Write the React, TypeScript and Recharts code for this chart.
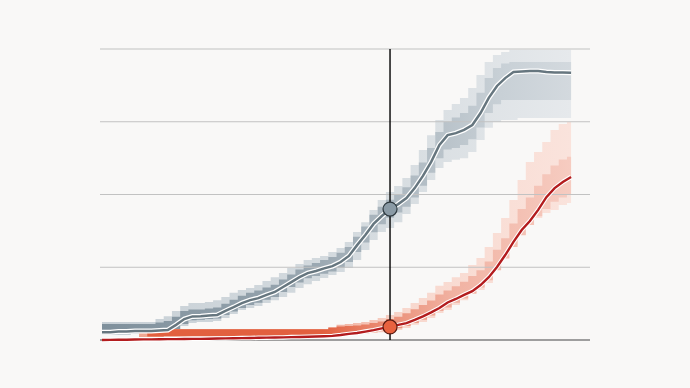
import { ComposedChart, Area, Line, XAxis, YAxis, ReferenceLine, ReferenceDot } from 'recharts';

// one column every ~8px, the marker sits on column 35
const grayLine = [2.7, 2.7, 2.9, 2.9, 3.1, 3.1, 3.1, 3.3, 3.4, 5.2, 7.2, 8.1, 8.2, 8.4, 8.6, 10.0, 11.3, 12.7, 13.7, 14.4, 15.5, 16.5, 18.2, 19.9, 21.6, 23.0, 23.7, 24.6, 25.4, 26.8, 28.9, 32.6, 36.1, 39.9, 42.6, 45.0, 46.7, 48.8, 52.2, 56.4, 61.2, 67.0, 70.4, 71.1, 72.2, 73.9, 78.0, 83.2, 87.3, 90.0, 92.1, 92.3, 92.4, 92.4, 92.1, 91.9, 91.9, 91.8];
const grayOuterLo = [1.7, 1.7, 1.7, 1.7, 2.1, 2.1, 2.1, 2.1, 2.4, 3.4, 4.8, 5.8, 6.2, 6.2, 6.5, 7.6, 8.9, 10.3, 11.0, 11.7, 12.7, 13.7, 14.8, 16.2, 17.9, 19.2, 20.3, 21.3, 22.3, 23.4, 24.7, 27.5, 30.9, 34.4, 37.1, 38.5, 40.5, 43.3, 46.7, 50.9, 55.0, 59.1, 61.2, 61.9, 62.5, 64.6, 68.7, 72.9, 74.9, 75.6, 75.6, 76.3, 76.3, 76.3, 76.3, 76.3, 76.3, 76.3];
const grayOuterHi = [6.2, 6.2, 6.2, 6.2, 6.2, 6.2, 6.2, 7.2, 8.2, 10.0, 11.7, 12.7, 12.7, 13.1, 13.7, 14.8, 16.2, 17.2, 17.9, 18.9, 20.3, 21.6, 23.0, 24.7, 26.1, 27.5, 28.2, 28.9, 30.2, 31.6, 33.7, 37.1, 40.5, 44.7, 48.1, 50.9, 52.9, 55.7, 60.1, 65.3, 70.4, 75.6, 79.0, 81.1, 83.2, 86.6, 91.1, 95.5, 97.9, 99.0, 99.7, 99.7, 99.7, 99.7, 99.7, 99.7, 99.7, 99.7];
const grayInnerLo = [2.2, 2.2, 2.2, 2.2, 2.4, 2.4, 2.4, 2.6, 2.8, 3.8, 5.5, 6.8, 7.0, 7.2, 7.4, 8.6, 9.8, 11.0, 12.0, 12.8, 13.8, 14.8, 16.5, 18.2, 19.8, 21.2, 22.0, 22.8, 23.5, 24.8, 26.8, 30.2, 33.5, 37.0, 39.8, 42.0, 43.8, 45.8, 49.0, 53.0, 57.5, 62.5, 65.5, 66.0, 67.0, 69.0, 73.0, 78.0, 81.0, 82.5, 82.5, 82.5, 82.5, 82.5, 82.5, 82.5, 82.5, 82.5];
const grayInnerHi = [5.5, 5.5, 5.5, 5.5, 5.5, 5.5, 5.5, 6.0, 6.5, 8.0, 10.0, 10.5, 10.5, 10.8, 11.2, 12.5, 13.8, 15.2, 16.2, 17.0, 18.0, 19.0, 20.8, 22.5, 24.2, 25.6, 26.5, 27.5, 28.5, 30.0, 32.0, 35.5, 39.0, 43.0, 45.8, 48.2, 50.0, 52.5, 56.5, 61.0, 66.0, 71.5, 75.0, 76.5, 78.0, 80.5, 85.0, 90.0, 93.5, 95.0, 95.5, 95.5, 95.5, 95.5, 95.5, 95.5, 95.5, 95.5];

const redLine = [0.0, 0.05, 0.1, 0.1, 0.15, 0.2, 0.2, 0.25, 0.3, 0.3, 0.35, 0.4, 0.4, 0.45, 0.5, 0.55, 0.6, 0.65, 0.7, 0.75, 0.8, 0.85, 0.9, 1.0, 1.05, 1.1, 1.2, 1.3, 1.4, 1.7, 2.1, 2.4, 2.9, 3.4, 4.0, 4.5, 5.2, 5.8, 6.9, 8.1, 9.5, 11.0, 12.9, 14.1, 15.5, 16.8, 18.9, 21.6, 25.1, 29.2, 33.7, 37.8, 40.9, 44.7, 49.1, 52.2, 54.3, 56.0];
const redOuterLo = [0, 0, 0.1, 0.1, 0.1, 1.0, 1.0, 1.0, 1.2, 1.2, 1.2, 1.2, 1.2, 1.2, 1.2, 1.2, 1.2, 1.2, 1.2, 1.2, 1.2, 1.2, 1.2, 1.2, 1.2, 1.2, 1.2, 1.2, 1.4, 1.7, 1.7, 2.1, 2.2, 2.4, 2.7, 3.1, 3.4, 4.1, 5.2, 6.2, 7.6, 9.3, 10.3, 12.0, 13.7, 15.8, 17.2, 19.6, 24.7, 28.2, 32.6, 36.1, 39.5, 41.9, 43.6, 44.7, 46.4, 47.1];
const redOuterHi = [0.2, 0.2, 0.3, 0.3, 0.3, 2.4, 3.4, 3.8, 3.8, 3.8, 3.8, 3.8, 3.8, 3.8, 3.8, 3.8, 3.8, 3.8, 3.8, 3.8, 3.8, 3.8, 3.8, 3.8, 3.8, 3.8, 3.8, 3.8, 4.5, 5.2, 5.5, 5.8, 6.2, 6.9, 7.6, 8.6, 9.6, 11.0, 12.7, 14.4, 16.2, 18.6, 19.9, 21.6, 23.0, 25.8, 28.2, 32.0, 36.8, 41.9, 48.1, 55.0, 61.2, 64.6, 68.0, 72.2, 74.2, 74.9];
const redInnerLo = [0, 0, 0.1, 0.1, 0.1, 1.0, 1.2, 1.2, 1.3, 1.3, 1.3, 1.3, 1.3, 1.3, 1.3, 1.3, 1.3, 1.3, 1.3, 1.3, 1.3, 1.3, 1.3, 1.3, 1.3, 1.3, 1.3, 1.3, 1.5, 1.8, 2.0, 2.3, 2.5, 2.8, 3.2, 3.6, 4.0, 4.8, 5.8, 7.0, 8.4, 10.0, 11.2, 12.8, 14.3, 16.0, 18.0, 20.5, 24.0, 28.0, 32.0, 36.0, 39.5, 42.5, 45.0, 47.5, 49.0, 50.0];
const redInnerHi = [0, 0, 0.1, 0.1, 0.1, 1.0, 2.5, 3.6, 3.7, 3.7, 3.7, 3.7, 3.7, 3.7, 3.7, 3.7, 3.7, 3.7, 3.7, 3.7, 3.7, 3.7, 3.7, 3.7, 3.7, 3.7, 3.7, 3.7, 4.2, 4.6, 4.8, 5.0, 5.3, 5.8, 6.4, 7.2, 8.0, 9.2, 10.6, 12.0, 13.6, 15.6, 17.0, 18.5, 20.0, 22.0, 24.0, 27.0, 31.0, 35.0, 40.0, 45.0, 49.0, 53.0, 57.0, 60.0, 62.0, 63.0];

const gridTicks = [25, 50, 75, 100];
const markerIndex = 35;

const data = grayLine.map((g, i) => ({
  i,
  gray: g,
  grayOuter: [grayOuterLo[i], grayOuterHi[i]],
  grayInner: [grayInnerLo[i], grayInnerHi[i]],
  red: redLine[i],
  redOuter: [redOuterLo[i], redOuterHi[i]],
  redInner: [redInnerLo[i], redInnerHi[i]],
}));

export default function App() {
  return (
    <div style={{ position: 'absolute', top: 0, left: 0, width: 690, height: 388, background: '#f9f8f7' }}>
      <ComposedChart width={690} height={388} data={data} margin={{ top: 49, right: 100, bottom: 48, left: 100 }}>
        <defs>
          <linearGradient id="grayOuterFill" x1="0" y1="0" x2="1" y2="0">
            <stop offset="0" stopColor="#c8d0d6" />
            <stop offset="0.6" stopColor="#d6dce0" />
            <stop offset="1" stopColor="#e6e9ec" />
          </linearGradient>
          <linearGradient id="grayInnerFill" x1="0" y1="0" x2="1" y2="0">
            <stop offset="0" stopColor="#7f909c" />
            <stop offset="0.4" stopColor="#95a3ad" />
            <stop offset="0.65" stopColor="#afbac2" />
            <stop offset="0.85" stopColor="#c8d0d6" />
            <stop offset="1" stopColor="#d3d9de" />
          </linearGradient>
          <linearGradient id="redOuterFill" x1="0" y1="0" x2="1" y2="0">
            <stop offset="0" stopColor="#efa58f" />
            <stop offset="0.5" stopColor="#f1b3a2" />
            <stop offset="0.65" stopColor="#f8d8ce" />
            <stop offset="1" stopColor="#fae3dc" />
          </linearGradient>
          <linearGradient id="redInnerFill" x1="0" y1="0" x2="1" y2="0">
            <stop offset="0" stopColor="#e2603f" />
            <stop offset="0.47" stopColor="#e2603f" />
            <stop offset="0.6" stopColor="#ea8c74" />
            <stop offset="0.75" stopColor="#f1b2a2" />
            <stop offset="1" stopColor="#f6ccc1" />
          </linearGradient>
        </defs>
        <XAxis hide type="number" dataKey="i" domain={[-0.243, 59.3]} />
        <YAxis hide type="number" domain={[0, 100]} />
        {gridTicks.map((t) => (
          <ReferenceLine key={t} y={t} stroke="#c2c2c2" strokeWidth={1.2} />
        ))}
        <Area type="step" dataKey="grayOuter" stroke="none" fill="url(#grayOuterFill)" fillOpacity={1} isAnimationActive={false} />
        <Area type="step" dataKey="grayInner" stroke="none" fill="url(#grayInnerFill)" fillOpacity={1} isAnimationActive={false} />
        <Area type="step" dataKey="redOuter" stroke="none" fill="url(#redOuterFill)" fillOpacity={1} isAnimationActive={false} />
        <Area type="step" dataKey="redInner" stroke="none" fill="url(#redInnerFill)" fillOpacity={1} isAnimationActive={false} />
        <ReferenceLine y={0} stroke="#9e9e9e" strokeWidth={2} />
        <ReferenceLine x={markerIndex} stroke="#000" strokeWidth={1.4} />
        <Line type="linear" dataKey="gray" stroke="#ffffff" strokeWidth={5} dot={false} isAnimationActive={false} />
        <Line type="linear" dataKey="gray" stroke="#66767f" strokeWidth={2.5} dot={false} isAnimationActive={false} />
        <Line type="linear" dataKey="red" stroke="#ffffff" strokeWidth={4.5} dot={false} isAnimationActive={false} />
        <Line type="linear" dataKey="red" stroke="#b31c1e" strokeWidth={2.4} dot={false} isAnimationActive={false} />
        <ReferenceDot x={markerIndex} y={grayLine[markerIndex]} r={7} fill="#8a9aa5" stroke="#2f3a40" strokeWidth={1.2} />
        <ReferenceDot x={markerIndex} y={redLine[markerIndex]} r={7} fill="#e8623f" stroke="#5a1a10" strokeWidth={1.2} />
      </ComposedChart>
    </div>
  );
}
